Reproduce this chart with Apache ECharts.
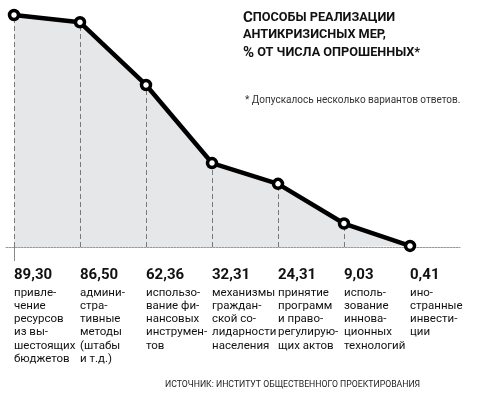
<!DOCTYPE html>
<html><head><meta charset="utf-8">
<script src="https://cdn.jsdelivr.net/npm/echarts@6/dist/echarts.min.js"></script>
<style>html,body{margin:0;padding:0;background:#fff}#c{width:500px;height:394px}</style>
</head><body><div id="c"></div>
<script>
const values = [89.30, 86.50, 62.36, 32.31, 24.31, 9.03, 0.41];
const categories = [
  'привле-\nчение\nресурсов\nиз вы-\nшестоящих\nбюджетов',
  'админи-\nстра-\nтивные\nметоды\n(штабы\nи т.д.)',
  'использо-\nвание фи-\nнансовых\nинструмен-\nтов',
  'механизмы\nграждан-\nской со-\nлидарности\nнаселения',
  'принятие\nпрограмм\nи право-\nрегулирую-\nщих актов',
  'исполь-\nзование\nиннова-\nционных\nтехнологий',
  'ино-\nстранные\nинвести-\nции'
];
const titleLines = ['{big|С}{sc|ПОСОБЫ РЕАЛИЗАЦИИ}', '{sc|АНТИКРИЗИСНЫХ МЕР,}', '{big|%}{sc| ОТ ЧИСЛА ОПРОШЕННЫХ*}'];
const footnote = '* Допускалось несколько вариантов ответов.';
const source = 'ИСТОЧНИК: ИНСТИТУТ ОБЩЕСТВЕННОГО ПРОЕКТИРОВАНИЯ';

const fmt = v => v.toFixed(2).replace('.', ',');
const chart = echarts.init(document.getElementById('c'), null, {renderer: 'canvas'});
chart.setOption({
  animation: false,
  textStyle: {fontFamily: 'Roboto'},
  title: [
    {text: titleLines.join('\n'), left: 243, top: 9, padding: 0,
     textStyle: {rich: {
       big: {fontSize: 15, fontWeight: 'bold', fontFamily: 'Roboto', color: '#111', lineHeight: 17.5},
       sc: {fontSize: 12.7, fontWeight: 'bold', fontFamily: 'Roboto', color: '#111', lineHeight: 17.5}
     }}},
    {text: footnote, left: 245, top: 95, padding: 0, textStyle: {fontSize: 10, fontWeight: 'normal', color: '#333', fontFamily: 'Roboto'}},
    {text: source, left: 165, top: 380, padding: 0, textStyle: {fontSize: 8.7, fontWeight: 'normal', color: '#222', fontFamily: 'Roboto'}}
  ],
  grid: [
    {left: 14, right: 90, top: 15, bottom: 147},
    {left: 6, right: 40, top: 15, bottom: 147}
  ],
  xAxis: [
    {type: 'category', gridIndex: 0, data: categories, boundaryGap: false,
     axisLine: {show: false},
     axisTick: {show: true, interval: (i) => i === 0, length: 14, inside: false, lineStyle: {color: '#888', width: 1}},
     splitLine: {show: false},
     axisLabel: {show: true, interval: 0, align: 'left', verticalAlign: 'top', margin: 17,
       formatter: (c, i) => '{v|' + fmt(values[i]) + '}\n{d|' + c.split('\n').join('}\n{d|') + '}',
       rich: {
         v: {fontSize: 15, fontWeight: 'bold', color: '#111', fontFamily: 'Roboto', lineHeight: 22},
         d: {fontSize: 11.5, color: '#111', fontFamily: 'Roboto', lineHeight: 13.3}
       }}},
    {type: 'value', gridIndex: 1, min: 0, max: 1,
     axisLine: {show: true, lineStyle: {color: '#999', width: 1, type: [2, 1]}},
     axisTick: {show: false}, axisLabel: {show: false}, splitLine: {show: false}}
  ],
  yAxis: [
    {type: 'value', gridIndex: 0, min: 0, max: Math.max(...values), show: false, splitLine: {show: false}},
    {type: 'value', gridIndex: 1, min: 0, max: 1, show: false, splitLine: {show: false}}
  ],
  series: [{
    type: 'line', xAxisIndex: 0, yAxisIndex: 0, data: values, clip: false, z: 1,
    lineStyle: {width: 0, opacity: 0}, symbol: 'none',
    areaStyle: {color: '#e6e7e8', opacity: 1},
    markLine: {
      silent: true, symbol: 'none', label: {show: false}, z: 2,
      lineStyle: {color: '#7a7a7a', width: 1, type: [5, 3]},
      data: values.map((v, i) => [{coord: [i, 0]}, {coord: [i, v]}])
    }
  }, {
    type: 'line', xAxisIndex: 0, yAxisIndex: 0, data: values, clip: false, z: 5,
    lineStyle: {color: '#000', width: 4.5},
    symbol: 'circle', symbolSize: 9,
    itemStyle: {color: '#fff', borderColor: '#000', borderWidth: 3.5}
  }]
});
</script></body></html>
